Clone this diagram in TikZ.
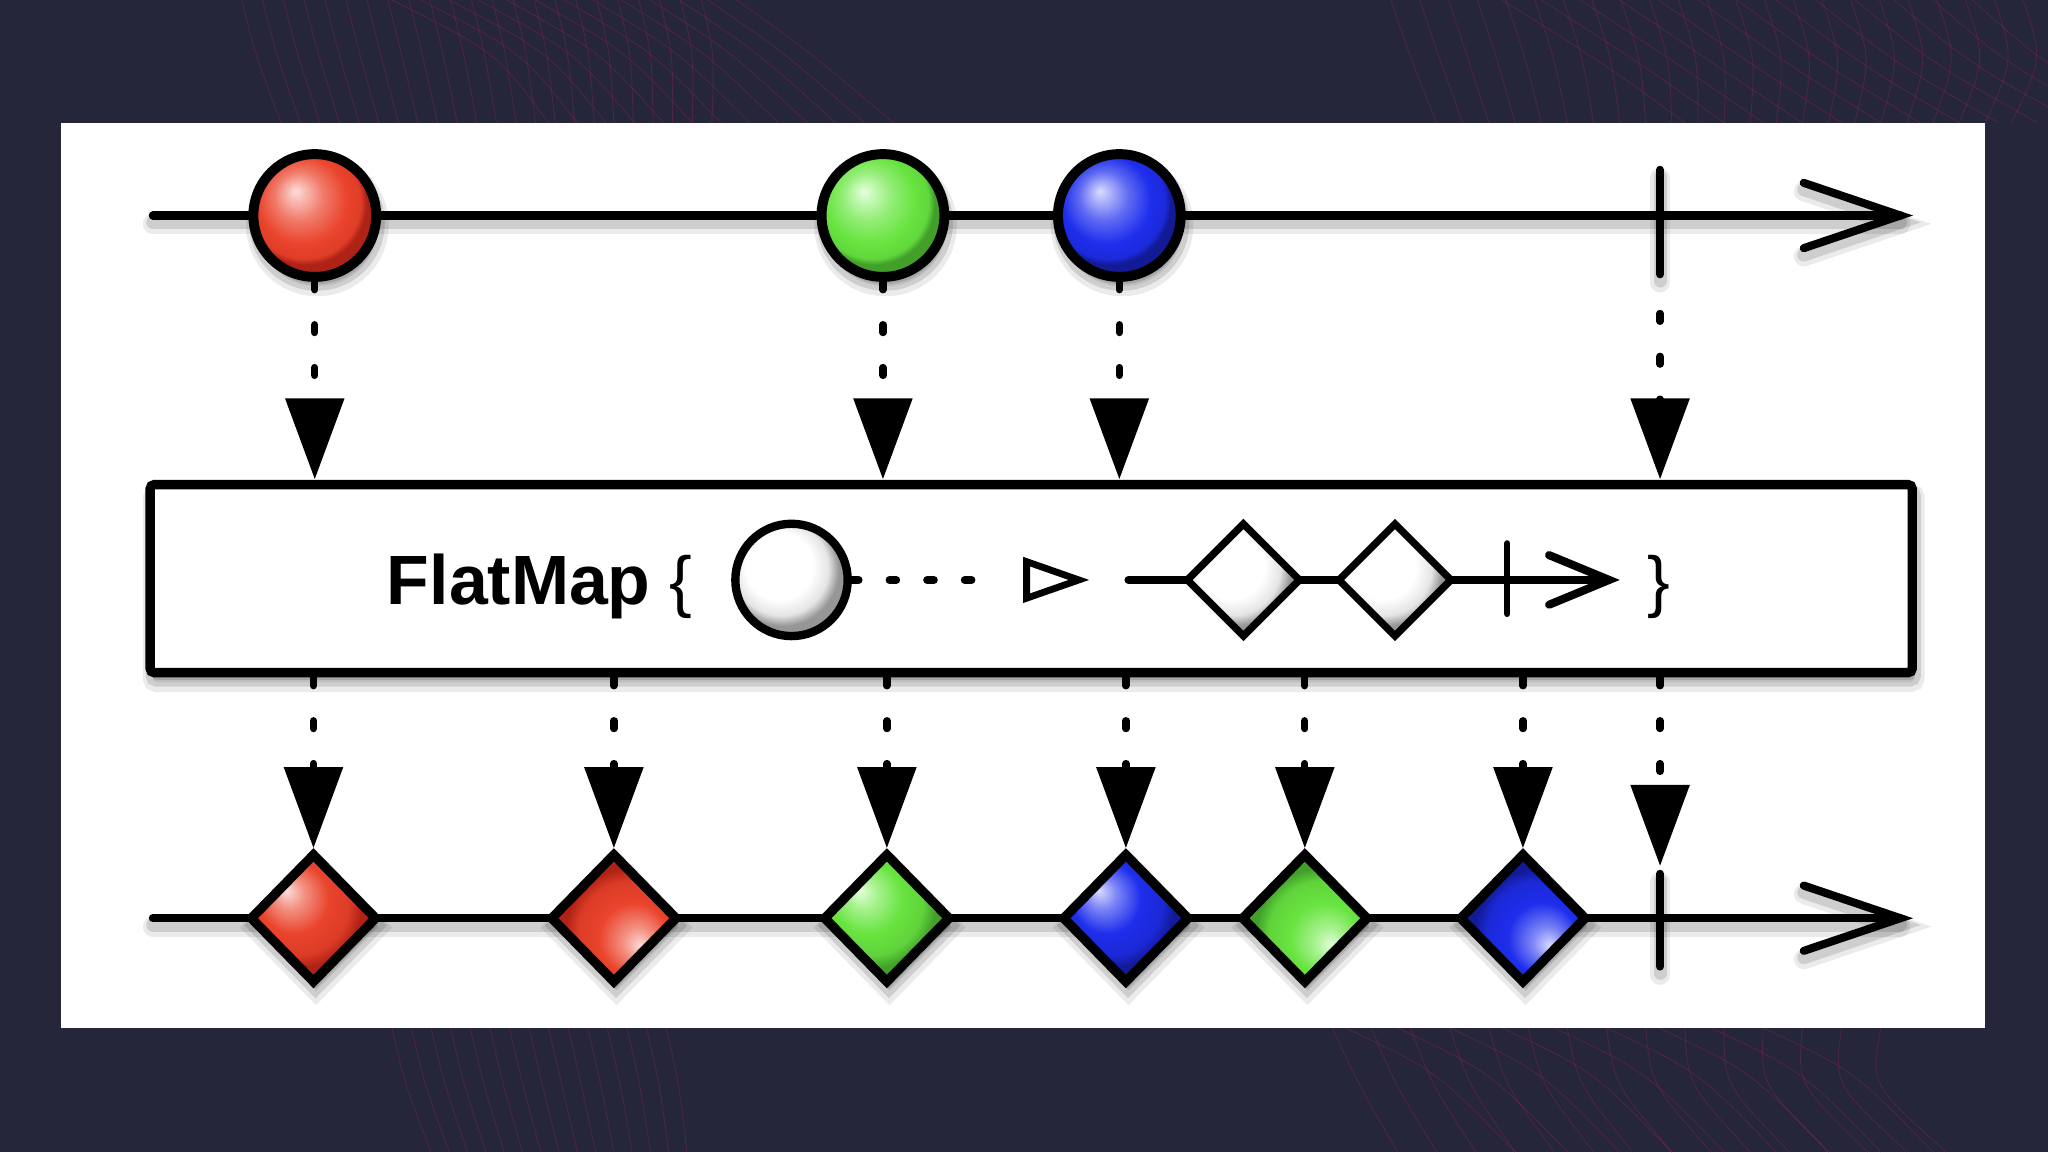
\documentclass[tikz,border=0pt]{standalone}
\usepackage{fontspec}
\setmainfont{Liberation Sans}
\usetikzlibrary{shapes.geometric,arrows.meta,calc}
\definecolor{bgc}{RGB}{37,38,58}
\definecolor{meshc}{RGB}{150,36,80}
\definecolor{redM}{RGB}{234,68,44}
\definecolor{redD}{RGB}{175,34,22}
\definecolor{redL}{RGB}{252,222,218}
\definecolor{grnM}{RGB}{104,228,64}
\definecolor{grnD}{RGB}{66,160,42}
\definecolor{grnL}{RGB}{228,255,220}
\definecolor{bluM}{RGB}{30,46,236}
\definecolor{bluD}{RGB}{18,26,150}
\definecolor{bluL}{RGB}{218,220,255}
\definecolor{whtD}{RGB}{150,150,150}

\pgfdeclareradialshading{ballred}{\pgfpoint{-8bp}{10bp}}{color(0bp)=(redL); color(10bp)=(redL!35!redM); color(18bp)=(redM); color(23bp)=(redM!80!redD); color(25bp)=(redD); color(50bp)=(redD)}
\pgfdeclareradialshading{ballgrn}{\pgfpoint{-8bp}{10bp}}{color(0bp)=(grnL); color(10bp)=(grnL!35!grnM); color(18bp)=(grnM); color(23bp)=(grnM!80!grnD); color(25bp)=(grnD); color(50bp)=(grnD)}
\pgfdeclareradialshading{ballblu}{\pgfpoint{-8bp}{10bp}}{color(0bp)=(bluL); color(10bp)=(bluL!35!bluM); color(18bp)=(bluM); color(23bp)=(bluM!80!bluD); color(25bp)=(bluD); color(50bp)=(bluD)}
\pgfdeclareradialshading{ballwht}{\pgfpoint{-8bp}{9bp}}{color(0bp)=(white); color(15bp)=(white); color(21bp)=(white!75!whtD); color(25bp)=(whtD); color(50bp)=(whtD)}
\pgfdeclareradialshading{tlred}{\pgfpoint{-11bp}{11bp}}{color(0bp)=(redL); color(6bp)=(redL!50!redM); color(14bp)=(redM); color(21bp)=(redM!75!redD); color(25bp)=(redD); color(50bp)=(redD)}
\pgfdeclareradialshading{brred}{\pgfpoint{11bp}{-11bp}}{color(0bp)=(redL); color(6bp)=(redL!50!redM); color(14bp)=(redM); color(21bp)=(redM!75!redD); color(25bp)=(redD); color(50bp)=(redD)}
\pgfdeclareradialshading{tlgrn}{\pgfpoint{-11bp}{11bp}}{color(0bp)=(grnL); color(6bp)=(grnL!50!grnM); color(14bp)=(grnM); color(21bp)=(grnM!75!grnD); color(25bp)=(grnD); color(50bp)=(grnD)}
\pgfdeclareradialshading{brgrn}{\pgfpoint{11bp}{-11bp}}{color(0bp)=(grnL); color(6bp)=(grnL!50!grnM); color(14bp)=(grnM); color(21bp)=(grnM!75!grnD); color(25bp)=(grnD); color(50bp)=(grnD)}
\pgfdeclareradialshading{tlblu}{\pgfpoint{-11bp}{11bp}}{color(0bp)=(bluL); color(6bp)=(bluL!50!bluM); color(14bp)=(bluM); color(21bp)=(bluM!75!bluD); color(25bp)=(bluD); color(50bp)=(bluD)}
\pgfdeclareradialshading{brblu}{\pgfpoint{11bp}{-11bp}}{color(0bp)=(bluL); color(6bp)=(bluL!50!bluM); color(14bp)=(bluM); color(21bp)=(bluM!75!bluD); color(25bp)=(bluD); color(50bp)=(bluD)}

\begin{document}
\begin{tikzpicture}[x=0.25mm,y=-0.25mm,
  ln/.style={line width=1.55mm, line cap=round, line join=miter},
  shl/.style={preaction={draw=black, draw opacity=0.08, line width=3.8mm, line cap=round, transform canvas={yshift=-1.6mm}},
              preaction={draw=black, draw opacity=0.12, line width=2.5mm, line cap=round, transform canvas={yshift=-1.3mm}}},
  shf/.style={preaction={draw=black, fill=black, draw opacity=0.08, fill opacity=0.08, line width=3.8mm, transform canvas={shift={(0.5mm,-1.8mm)}}},
              preaction={draw=black, fill=black, draw opacity=0.12, fill opacity=0.12, line width=2.5mm, transform canvas={shift={(0.4mm,-1.4mm)}}}},
  ball/.style={circle, draw, line width=1.9mm, minimum size=23.5mm, inner sep=0pt, shf},
  wball/.style={circle, draw, line width=1.6mm, minimum size=21.5mm, inner sep=0pt},
  dia/.style={diamond, draw, line width=1.8mm, minimum width=24.5mm, minimum height=25mm, inner sep=0pt, line join=miter, shf},
  wdia/.style={diamond, draw, line width=1.4mm, minimum width=22mm, minimum height=22mm, inner sep=0pt, line join=miter, shading=ballwht},
  conn/.style={line width=1.4mm, line cap=round, dash pattern=on 1.5mm off 6.7mm, -{Triangle[width=11mm,length=15.5mm]}},
  dots/.style={line width=1.5mm, line cap=round, dash pattern=on 1.3mm off 5.9mm},
  mesh/.style={draw=meshc, line width=0.18mm, opacity=0.35},
  lbl/.style={anchor=base west, inner sep=0pt, font=\fontsize{37}{40}\selectfont}
]
\useasboundingbox (0,0) rectangle (1568,882);
\fill[bgc] (0,0) rectangle (1568,882);

% background mesh texture
\begin{scope}
  \clip (0,0) rectangle (1568,94);
  \foreach \i in {0,...,22} {
    \draw[mesh] (185+\i*16,0) .. controls (195+\i*16,40) .. (215+\i*15,94);
    \draw[mesh] (1065+\i*22,0) .. controls (1080+\i*22,45) .. (1100+\i*20,94);
  }
  \foreach \i in {0,...,12} {
    \draw[mesh] (300+\i*22,0) .. controls (380+\i*20,40) .. (420+\i*22,94);
    \draw[mesh] (1150+\i*30,0) .. controls (1230+\i*28,50) .. (1290+\i*30,94);
  }
\end{scope}
\begin{scope}
  \clip (0,787) rectangle (1568,882);
  \foreach \i in {0,...,14} {
    \draw[mesh] (300+\i*15,787) .. controls (310+\i*15,830) .. (330+\i*14,882);
    \draw[mesh] (1020+\i*30,787) .. controls (1040+\i*28,830) .. (1070+\i*30,882);
  }
  \foreach \i in {0,...,8} {
    \draw[mesh] (1030+\i*40,787) .. controls (1100+\i*40,820) .. (1160+\i*40,882);
  }
\end{scope}

% white panel
\fill[white] (47,94) rectangle (1520,787);

% reference coordinates for the operator box edges
\coordinate (btop) at (0,367);
\coordinate (bbot) at (0,519);

% ---------- top timeline ----------
\coordinate (ts) at (117,165);
\coordinate (te) at (1455,165);
\draw[ln, shl] (ts) -- (te);
\draw[ln, shl] ($(te)+(-74,-25)$) -- (te) -- ($(te)+(-74,25)$);
\coordinate (tk1a) at (1271,130);
\coordinate (tk1b) at (1271,210);
\draw[ln, shl] (tk1a) -- (tk1b);
\coordinate (tk1c) at (1271,240);

\node[ball, shading=ballred] (r) at (241,165) {};
\node[ball, shading=ballgrn] (g) at (676,165) {};
\node[ball, shading=ballblu] (b) at (857,165) {};

% ---------- operator box ----------
\node[draw, line width=1.8mm, rounded corners=0.8mm, minimum width=337.25mm, minimum height=36mm,
      inner sep=0pt, fill=white, shf] (box) at (789.5,443) {};

\draw[conn] (r.south) -- (r.south |- btop);
\draw[conn] (g.south) -- (g.south |- btop);
\draw[conn] (b.south) -- (b.south |- btop);
\draw[conn] (tk1c) -- (tk1c |- btop);

\node[lbl, font=\fontsize{38}{40}\selectfont\bfseries] (fm) at (296,463) {FlatMap};
\node[lbl] (lb) at (512,463) {\{};
\node[lbl] (rb) at (1261,463) {\}};

\node[wball, shading=ballwht] (wb) at (606,444) {};
\coordinate (dend) at (762,444);
\draw[dots] (wb.east) -- (dend);
\coordinate (tri) at (786,444);
\draw[line width=1.3mm, line join=miter] ($(tri)+(0,-14)$) -- ($(tri)+(40,0)$) -- ($(tri)+(0,14)$) -- cycle;

\coordinate (is) at (864,444);
\coordinate (ie) at (1232,444);
\draw[ln] (is) -- (ie);
\draw[ln] ($(ie)+(-46,-19)$) -- (ie) -- ($(ie)+(-46,19)$);
\node[wdia] (w1) at (952,444) {};
\node[wdia] (w2) at (1068,444) {};
\coordinate (itka) at (1154,416);
\coordinate (itkb) at (1154,470);
\draw[line width=1.2mm, line cap=round] (itka) -- (itkb);

% ---------- bottom timeline ----------
\coordinate (bs) at (117,703);
\coordinate (be) at (1455,703);
\draw[ln, shl] (bs) -- (be);
\draw[ln, shl] ($(be)+(-74,-25)$) -- (be) -- ($(be)+(-74,25)$);
\coordinate (tk2a) at (1271,669);
\coordinate (tk2b) at (1271,740);
\coordinate (tk2t) at (1271,663);
\draw[ln, shl] (tk2a) -- (tk2b);

\node[dia, shading=tlred] (d1) at (240,703) {};
\node[dia, shading=brred] (d2) at (470,703) {};
\node[dia, shading=tlgrn] (d3) at (679,703) {};
\node[dia, shading=tlblu] (d4) at (862,703) {};
\node[dia, shading=brgrn] (d5) at (999,703) {};
\node[dia, shading=brblu] (d6) at (1166,703) {};

\foreach \d in {d1,d2,d3,d4,d5,d6} {
  \draw[conn] (\d.north |- bbot) -- (\d.north);
}
\draw[conn] (tk2t |- bbot) -- (tk2t);
\end{tikzpicture}
\end{document}
